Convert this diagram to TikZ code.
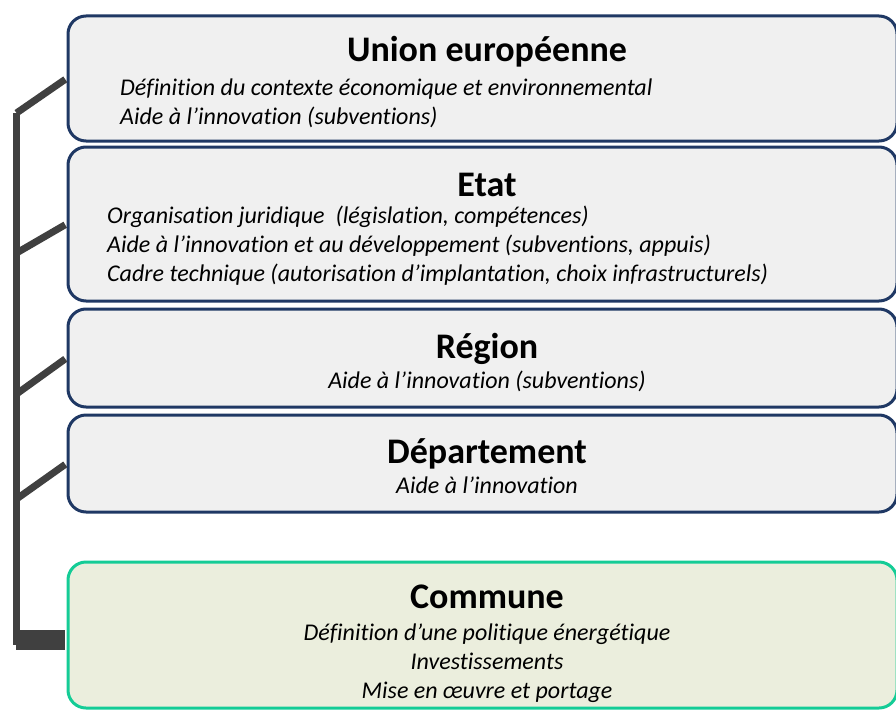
\documentclass[tikz,border=0pt]{standalone}
\usepackage{fontspec}
\setmainfont{Carlito}[Ligatures=NoCommon]

\definecolor{navy}{HTML}{1F3864}
\definecolor{boxgray}{HTML}{F0F0F0}
\definecolor{mint}{HTML}{14CC96}
\definecolor{paleolive}{HTML}{EBEEDD}
\definecolor{linkgray}{HTML}{404040}

\tikzset{
	level/.style={draw=navy, fill=boxgray, line width=3pt, rounded corners=18pt,
		minimum width=829pt, inner sep=0pt},
	communebox/.style={level, draw=mint, fill=paleolive},
	title/.style={anchor=base, inner sep=0pt, font=\fontsize{36}{36}\selectfont\bfseries},
	item/.style={anchor=base west, inner sep=0pt, font=\fontsize{24}{24}\selectfont\itshape},
	citem/.style={item, anchor=base},
	link/.style={draw=linkgray, line width=7pt}
}

\begin{document}
\begin{tikzpicture}[x=1pt,y=-1pt]
		\useasboundingbox (0,0) rectangle (896,709);
		
		% the five levels
		\node [level, minimum height=125pt] (ue) at (482.5,78.5) {};
		\node [level, minimum height=154pt] (etat) at (482.5,224) {};
		\node [level, minimum height=98pt] (region) at (482.5,358) {};
		\node [level, minimum height=97pt] (dept) at (482.5,463.5) {};
		\node [communebox, minimum height=146pt] (commune) at (482.5,635) {};
		
		\node [title] (ueT) at (487,62) {Union européenne};
		\node [item] (ue1) at (120,95.5) {Définition du contexte économique et environnemental};
		\node [item] (ue2) at (120,124.5) {Aide à l’innovation (subventions)};
		
		\node [title] (etatT) at (487,196) {Etat};
		\node [item] (etat1) at (107,223.5) {Organisation juridique \ (législation, compétences)};
		\node [item] (etat2) at (107,252.5) {Aide à l’innovation et au développement (subventions, appuis)};
		\node [item] (etat3) at (107,281.5) {Cadre technique (autorisation d’implantation, choix infrastructurels)};
		
		\node [title] (regionT) at (487,358) {Région};
		\node [citem] (region1) at (487,388) {Aide à l’innovation (subventions)};
		
		\node [title] (deptT) at (487,463) {Département};
		\node [citem] (dept1) at (487,493) {Aide à l’innovation};
		
		\node [title] (communeT) at (487,608) {Commune};
		\node [citem] (commune1) at (487,640) {Définition d’une politique énergétique};
		\node [citem] (commune2) at (487,669) {Investissements};
		\node [citem] (commune3) at (487,698) {Mise en œuvre et portage};
		
		% trunk on the left
		\coordinate (trunkTop) at (16.5,113);
		\coordinate (trunkFoot) at (16.5,645);
		\coordinate (jEtat) at (16.5,253);
		\coordinate (jRegion) at (16.5,394);
		\coordinate (jDept) at (16.5,499);
		\coordinate (foot) at (16,640);
		
		\begin{scope}[link]
			\draw (trunkTop) -- (trunkFoot);
			\draw [shorten >=1.5pt] (trunkTop) -- (ue.west);
			\draw [shorten >=1.5pt] (jEtat) -- (etat.west);
			\draw [shorten >=1.5pt] (jRegion) -- (region.west);
			\draw [shorten >=1.5pt] (jDept) -- (dept.west);
			\draw [line width=20pt, shorten >=1.5pt] (foot) -- (foot -| commune.west);
		\end{scope}
	\end{tikzpicture}
\end{document}
